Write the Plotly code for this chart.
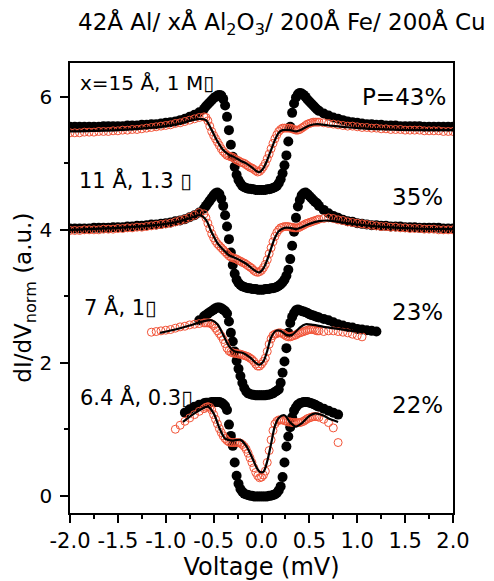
import plotly.graph_objects as go

# Voltage sampling grid (mV)
VOLT = [
    -2.00, -1.95, -1.90, -1.85, -1.80, -1.75, -1.70, -1.65, -1.60, -1.55,
    -1.50, -1.45, -1.40, -1.35, -1.30, -1.25, -1.20, -1.15, -1.10, -1.05,
    -1.00, -0.95, -0.90, -0.85, -0.80, -0.75, -0.70, -0.65,
    -0.60, -0.58, -0.56, -0.54, -0.52, -0.50, -0.48, -0.46, -0.44, -0.42,
    -0.40, -0.38, -0.36, -0.34, -0.32, -0.30, -0.28, -0.26, -0.24, -0.22,
    -0.20, -0.18, -0.16, -0.14, -0.12, -0.10, -0.08, -0.06, -0.04, -0.02,
    0.00,
    0.02, 0.04, 0.06, 0.08, 0.10, 0.12, 0.14, 0.16, 0.18, 0.20,
    0.22, 0.24, 0.26, 0.28, 0.30, 0.32, 0.34, 0.36, 0.38, 0.40,
    0.42, 0.44, 0.46, 0.48, 0.50, 0.52, 0.54, 0.56, 0.58, 0.60,
    0.65, 0.70, 0.75, 0.80, 0.85, 0.90, 0.95, 1.00, 1.05, 1.10,
    1.15, 1.20, 1.25, 1.30, 1.35, 1.40, 1.45, 1.50, 1.55, 1.60,
    1.65, 1.70, 1.75, 1.80, 1.85, 1.90, 1.95, 2.00]

# ---- x = 15 A (P = 43%) ----
V_B1 = VOLT
B1 = [
    5.55, 5.55, 5.55, 5.55, 5.55, 5.55, 5.55, 5.56, 5.56, 5.56,
    5.56, 5.56, 5.57, 5.57, 5.57, 5.58, 5.58, 5.59, 5.59, 5.60,
    5.61, 5.62, 5.63, 5.65, 5.67, 5.70, 5.73, 5.77,
    5.82, 5.86, 5.89, 5.92, 5.95, 5.98, 6.00, 6.02, 6.03, 6.02,
    5.97, 5.87, 5.70, 5.50, 5.28, 5.10, 4.95, 4.83, 4.75, 4.70,
    4.66, 4.64, 4.63, 4.62, 4.62, 4.61, 4.61, 4.60, 4.60, 4.60,
    4.60,
    4.60, 4.60, 4.61, 4.61, 4.62, 4.63, 4.64, 4.66, 4.70, 4.76,
    4.85, 4.97, 5.12, 5.33, 5.55, 5.76, 5.90, 5.99, 6.04, 6.06,
    6.05, 6.03, 6.00, 5.96, 5.93, 5.90, 5.87, 5.84, 5.81, 5.79,
    5.75, 5.72, 5.69, 5.67, 5.65, 5.63, 5.62, 5.61, 5.60, 5.59,
    5.59, 5.58, 5.58, 5.57, 5.57, 5.57, 5.56, 5.56, 5.56, 5.56,
    5.56, 5.55, 5.55, 5.55, 5.55, 5.55, 5.55, 5.55]
V_R1 = VOLT
R1 = [
    5.46, 5.46, 5.46, 5.47, 5.47, 5.47, 5.48, 5.48, 5.48, 5.49,
    5.49, 5.50, 5.50, 5.51, 5.51, 5.52, 5.53, 5.54, 5.55, 5.56,
    5.57, 5.58, 5.60, 5.61, 5.63, 5.65, 5.67, 5.69,
    5.70, 5.69, 5.64, 5.56, 5.48, 5.42, 5.37, 5.32, 5.27, 5.22,
    5.18, 5.15, 5.12, 5.11, 5.10, 5.09, 5.07, 5.05, 5.04, 5.02,
    5.01, 5.00, 4.98, 4.96, 4.94, 4.93, 4.91, 4.89, 4.87, 4.88,
    4.91,
    4.95, 5.00, 5.07, 5.14, 5.22, 5.30, 5.37, 5.43, 5.48, 5.51,
    5.53, 5.53, 5.53, 5.53, 5.53, 5.52, 5.51, 5.50, 5.50, 5.51,
    5.53, 5.55, 5.57, 5.59, 5.60, 5.61, 5.62, 5.62, 5.62, 5.62,
    5.61, 5.60, 5.59, 5.58, 5.57, 5.56, 5.56, 5.55, 5.54, 5.54,
    5.53, 5.53, 5.52, 5.52, 5.51, 5.51, 5.51, 5.50, 5.50, 5.50,
    5.50, 5.49, 5.49, 5.49, 5.49, 5.48, 5.48, 5.48]
V_F1 = [-2.0, -1.5, -1.2, -1.0, -0.85, -0.72, -0.64, -0.58, -0.52, -0.46, -0.40,
        -0.34, -0.28, -0.22, -0.16, -0.10, -0.05, -0.02, 0.02, 0.06, 0.10, 0.14,
        0.18, 0.22, 0.30, 0.36, 0.42, 0.50, 0.58, 0.70, 0.85, 1.0, 1.3, 1.6, 2.0]
F1 = [5.48, 5.50, 5.53, 5.56, 5.60, 5.65, 5.67, 5.65, 5.50, 5.33, 5.20,
      5.13, 5.09, 5.04, 5.00, 4.94, 4.88, 4.87, 4.93, 5.05, 5.20, 5.35,
      5.46, 5.50, 5.50, 5.48, 5.51, 5.57, 5.59, 5.57, 5.55, 5.53, 5.51, 5.50, 5.50]

# ---- 11 A (P = 35%) ----
V_B2 = VOLT
B2 = [
    4.02, 4.02, 4.02, 4.02, 4.02, 4.03, 4.03, 4.03, 4.03, 4.04,
    4.04, 4.04, 4.05, 4.05, 4.06, 4.06, 4.07, 4.08, 4.08, 4.09,
    4.10, 4.11, 4.13, 4.14, 4.16, 4.19, 4.22, 4.26,
    4.32, 4.36, 4.40, 4.44, 4.48, 4.52, 4.55, 4.56, 4.54, 4.47,
    4.36, 4.22, 4.05, 3.86, 3.66, 3.47, 3.34, 3.25, 3.20, 3.17,
    3.15, 3.14, 3.13, 3.12, 3.12, 3.11, 3.11, 3.11, 3.10, 3.10,
    3.10,
    3.10, 3.11, 3.11, 3.11, 3.12, 3.12, 3.13, 3.14, 3.16, 3.18,
    3.21, 3.25, 3.31, 3.40, 3.56, 3.76, 3.97, 4.18, 4.35, 4.45,
    4.52, 4.55, 4.56, 4.54, 4.51, 4.48, 4.45, 4.42, 4.40, 4.36,
    4.30, 4.25, 4.21, 4.18, 4.15, 4.13, 4.12, 4.10, 4.09, 4.08,
    4.07, 4.07, 4.06, 4.06, 4.05, 4.05, 4.05, 4.04, 4.04, 4.04,
    4.03, 4.03, 4.03, 4.03, 4.03, 4.02, 4.02, 4.02]
V_R2 = VOLT
R2 = [
    3.99, 3.99, 3.99, 4.00, 4.00, 4.00, 4.00, 4.01, 4.01, 4.01,
    4.02, 4.02, 4.03, 4.03, 4.04, 4.04, 4.05, 4.06, 4.07, 4.08,
    4.09, 4.10, 4.12, 4.14, 4.16, 4.19, 4.22, 4.26,
    4.24, 4.18, 4.10, 4.02, 3.94, 3.88, 3.83, 3.79, 3.76, 3.73,
    3.70, 3.67, 3.64, 3.61, 3.59, 3.58, 3.57, 3.56, 3.54, 3.53,
    3.51, 3.50, 3.48, 3.46, 3.44, 3.42, 3.39, 3.37, 3.36, 3.37,
    3.39,
    3.43, 3.48, 3.55, 3.64, 3.73, 3.82, 3.90, 3.96, 4.00, 4.03,
    4.04, 4.05, 4.05, 4.05, 4.04, 4.04, 4.03, 4.03, 4.03, 4.04,
    4.06, 4.07, 4.09, 4.10, 4.11, 4.12, 4.13, 4.14, 4.15, 4.16,
    4.17, 4.18, 4.17, 4.15, 4.14, 4.12, 4.11, 4.10, 4.09, 4.08,
    4.07, 4.06, 4.05, 4.05, 4.04, 4.04, 4.03, 4.03, 4.02, 4.02,
    4.02, 4.01, 4.01, 4.01, 4.00, 4.00, 4.00, 4.00]
V_F2 = [-2.0, -1.5, -1.2, -1.0, -0.85, -0.72, -0.64, -0.58, -0.52, -0.46, -0.40,
        -0.34, -0.28, -0.22, -0.16, -0.10, -0.05, -0.02, 0.02, 0.06, 0.10, 0.14,
        0.18, 0.24, 0.30, 0.36, 0.42, 0.50, 0.60, 0.70, 0.85, 1.0, 1.3, 1.6, 2.0]
F2 = [4.00, 4.03, 4.06, 4.09, 4.13, 4.19, 4.22, 4.15, 3.96, 3.80, 3.70,
      3.62, 3.58, 3.54, 3.49, 3.42, 3.37, 3.36, 3.42, 3.55, 3.72, 3.88,
      3.98, 4.03, 4.03, 4.01, 4.04, 4.09, 4.13, 4.14, 4.11, 4.08, 4.04, 4.02, 4.01]

# ---- 7 A (P = 23%) ----
V_B3 = VOLT[27:101]
B3 = [
    2.64,
    2.70, 2.72, 2.74, 2.76, 2.78, 2.80, 2.82, 2.83, 2.83, 2.82,
    2.80, 2.78, 2.74, 2.62, 2.45, 2.32, 2.17, 2.03, 1.91, 1.80,
    1.70, 1.62, 1.57, 1.54, 1.53, 1.52, 1.52, 1.51, 1.51, 1.51,
    1.51,
    1.51, 1.51, 1.52, 1.52, 1.53, 1.54, 1.56, 1.58, 1.60, 1.70,
    1.85, 2.02, 2.22, 2.45, 2.60, 2.69, 2.75, 2.79, 2.80, 2.79,
    2.78, 2.77, 2.76, 2.75, 2.73, 2.72, 2.71, 2.70, 2.69, 2.68,
    2.66, 2.64, 2.61, 2.58, 2.56, 2.54, 2.53, 2.51, 2.50, 2.49,
    2.48, 2.47]
V_R3 = VOLT[17:98]
R3 = [
    2.46, 2.47, 2.48, 2.49, 2.50, 2.52, 2.54, 2.55, 2.57, 2.58, 2.59,
    2.60, 2.60, 2.60, 2.60, 2.58, 2.56, 2.52, 2.48, 2.44, 2.40,
    2.35, 2.29, 2.22, 2.18, 2.16, 2.15, 2.14, 2.14, 2.13, 2.13,
    2.12, 2.11, 2.10, 2.09, 2.07, 2.05, 2.02, 1.98, 1.95, 1.95,
    1.98,
    2.02, 2.07, 2.17, 2.28, 2.36, 2.41, 2.43, 2.44, 2.45, 2.45,
    2.44, 2.42, 2.40, 2.39, 2.39, 2.40, 2.41, 2.42, 2.44, 2.45,
    2.46, 2.47, 2.48, 2.49, 2.50, 2.50, 2.50, 2.49, 2.48, 2.48,
    2.47, 2.48, 2.48, 2.47, 2.46, 2.45, 2.43, 2.41, 2.39]
V_F3 = [-1.06, -0.90, -0.75, -0.62, -0.52, -0.46, -0.40, -0.34, -0.28, -0.20,
        -0.12, -0.06, -0.02, 0.02, 0.06, 0.10, 0.15, 0.20, 0.26, 0.32, 0.40,
        0.46, 0.54, 0.65, 0.80, 0.95, 1.06]
F3 = [2.45, 2.50, 2.56, 2.62, 2.64, 2.58, 2.42, 2.25, 2.17, 2.15,
      2.08, 2.00, 1.97, 2.02, 2.18, 2.38, 2.48, 2.48, 2.42, 2.42, 2.53,
      2.58, 2.57, 2.54, 2.51, 2.48, 2.46]

# ---- 6.4 A (P = 22%) ----
V_B4 = VOLT[24:93]
B4 = [
    1.25, 1.30, 1.34, 1.37,
    1.39, 1.40, 1.40, 1.40, 1.41, 1.41, 1.41, 1.41, 1.41, 1.40,
    1.38, 1.35, 1.29, 1.07, 0.90, 0.75, 0.50, 0.30, 0.18, 0.10,
    0.06, 0.03, 0.02, 0.01, 0.00, 0.00, -0.01, -0.01, -0.01, -0.01,
    -0.01,
    -0.01, -0.01, -0.01, 0.00, 0.00, 0.01, 0.02, 0.04, 0.08, 0.14,
    0.28, 0.50, 0.74, 0.89, 1.03, 1.18, 1.28, 1.33, 1.37, 1.39,
    1.40, 1.41, 1.41, 1.41, 1.40, 1.39, 1.38, 1.37, 1.35, 1.34,
    1.31, 1.28, 1.25, 1.22]
V_R4 = VOLT[22:93]
R4 = [
    1.00, 1.06, 1.12, 1.17, 1.22, 1.27,
    1.31, 1.33, 1.34, 1.33, 1.29, 1.22, 1.15, 1.08, 1.01, 0.95,
    0.90, 0.86, 0.83, 0.81, 0.80, 0.80, 0.80, 0.80, 0.80, 0.79,
    0.77, 0.74, 0.70, 0.64, 0.57, 0.50, 0.42, 0.35, 0.30, 0.27,
    0.28,
    0.31, 0.37, 0.50, 0.68, 0.84, 0.98, 1.08, 1.12, 1.14, 1.14,
    1.14, 1.13, 1.12, 1.11, 1.11, 1.10, 1.10, 1.10, 1.10, 1.10,
    1.11, 1.12, 1.14, 1.16, 1.17, 1.18, 1.19, 1.19, 1.19, 1.18,
    1.15, 1.10, 1.02, 0.80]
V_F4 = [-0.82, -0.72, -0.62, -0.56, -0.50, -0.44, -0.38, -0.30, -0.22, -0.16,
        -0.10, -0.05, -0.02, 0.02, 0.06, 0.10, 0.14, 0.18, 0.24, 0.30, 0.36,
        0.42, 0.50, 0.56, 0.64, 0.72, 0.80]
F4 = [1.11, 1.22, 1.31, 1.34, 1.24, 1.02, 0.86, 0.83, 0.84, 0.75,
      0.58, 0.42, 0.36, 0.36, 0.52, 0.78, 1.05, 1.17, 1.21, 1.10, 1.04,
      1.09, 1.20, 1.24, 1.21, 1.15, 1.11]

X_TICKS = [-2.0, -1.5, -1.0, -0.5, 0.0, 0.5, 1.0, 1.5, 2.0]
X_TICKTEXT = ["-2.0", "-1.5", "-1.0", "-0.5", "0.0", "0.5", "1.0", "1.5", "2.0"]
Y_TICKS = [0, 2, 4, 6]

TITLE = "42Å Al/ xÅ Al<sub>2</sub>O<sub>3</sub>/ 200Å Fe/ 200Å Cu"
LABELS_LEFT = ["x=15 Å, 1 M▯", "11 Å, 1.3 ▯", "7 Å, 1▯", "6.4 Å, 0.3▯"]
LABELS_RIGHT = ["P=43%", "35%", "23%", "22%"]

series = [(V_B1, B1, V_R1, R1, V_F1, F1), (V_B2, B2, V_R2, R2, V_F2, F2),
          (V_B3, B3, V_R3, R3, V_F3, F3), (V_B4, B4, V_R4, R4, V_F4, F4)]
for s in series:
    assert len(s[0]) == len(s[1]) and len(s[2]) == len(s[3]) and len(s[4]) == len(s[5])

FONT = "DejaVu Sans"
RED = "rgb(242,84,56)"

fig = go.Figure()
for vb, b, vr, r, vf, f in series:
    fig.add_trace(go.Scatter(x=vb, y=b, mode="markers",
                             marker=dict(symbol="circle", size=10, color="black"),
                             showlegend=False, hoverinfo="skip"))
for vb, b, vr, r, vf, f in series:
    fig.add_trace(go.Scatter(x=vr, y=r, mode="markers",
                             marker=dict(symbol="circle-open", size=8, color=RED,
                                         line=dict(width=1, color=RED)),
                             showlegend=False, hoverinfo="skip"))
for vb, b, vr, r, vf, f in series:
    fig.add_trace(go.Scatter(x=vf, y=f, mode="lines",
                             line=dict(color="black", width=2.2, shape="spline", smoothing=0.8),
                             showlegend=False, hoverinfo="skip"))

left_pos = [(0.021, 0.956), (0.018, 0.740), (0.031, 0.458), (0.021, 0.258)]
left_size = [20, 21, 21, 21]
right_pos = [(0.986, 0.924), (0.979, 0.702), (0.979, 0.447), (0.979, 0.240)]
for txt, (x, y), fs in zip(LABELS_LEFT, left_pos, left_size):
    fig.add_annotation(text=txt, x=x, y=y, xref="paper", yref="paper",
                       xanchor="left", yanchor="middle", showarrow=False,
                       font=dict(family=FONT, size=fs, color="black"))
for txt, (x, y) in zip(LABELS_RIGHT, right_pos):
    fig.add_annotation(text=txt, x=x, y=y, xref="paper", yref="paper",
                       xanchor="right", yanchor="middle", showarrow=False,
                       font=dict(family=FONT, size=23, color="black"))

# chart title
fig.add_annotation(text=TITLE, x=0.016, y=1.087, xref="paper", yref="paper",
                   xanchor="left", yanchor="middle", showarrow=False,
                   font=dict(family=FONT, size=23, color="black"))

# y-axis title, placed like the reference (slightly below the plot centre)
fig.add_annotation(text="dI/dV<sub>norm</sub> (a.u.)", x=-0.118, y=0.478,
                   xref="paper", yref="paper", xanchor="center", yanchor="middle",
                   textangle=-90, showarrow=False,
                   font=dict(family=FONT, size=23, color="black"))

# The page body adds an 8px offset; the figure is sized to fit the window.
fig.update_layout(
    width=486, height=573,
    margin=dict(l=62, r=41, t=55, b=68, autoexpand=False),
    paper_bgcolor="white", plot_bgcolor="white",
    font=dict(family=FONT, color="black"),
    showlegend=False,
)
fig.update_xaxes(
    range=[-2, 2], tickvals=X_TICKS, ticktext=X_TICKTEXT, automargin=False,
    showgrid=False, zeroline=False,
    showline=True, linecolor="black", linewidth=1.5, mirror=True,
    ticks="outside", ticklen=8, tickwidth=1.5, tickcolor="black",
    minor=dict(dtick=0.25, ticks="outside", ticklen=4, tickwidth=1.5, tickcolor="black", showgrid=False),
    tickfont=dict(family=FONT, size=21, color="black"),
    title=dict(text="Voltage (mV)", font=dict(family=FONT, size=24, color="black"), standoff=4),
)
fig.update_yaxes(
    range=[-0.26, 6.51], tickvals=Y_TICKS, automargin=False,
    showgrid=False, zeroline=False,
    showline=True, linecolor="black", linewidth=1.5, mirror=True,
    ticks="outside", ticklen=8, tickwidth=1.5, tickcolor="black",
    minor=dict(dtick=1, ticks="outside", ticklen=4, tickwidth=1.5, tickcolor="black", showgrid=False),
    tickfont=dict(family=FONT, size=20, color="black"),
    ticklabelstandoff=4,
)

fig.write_html("out.html")
